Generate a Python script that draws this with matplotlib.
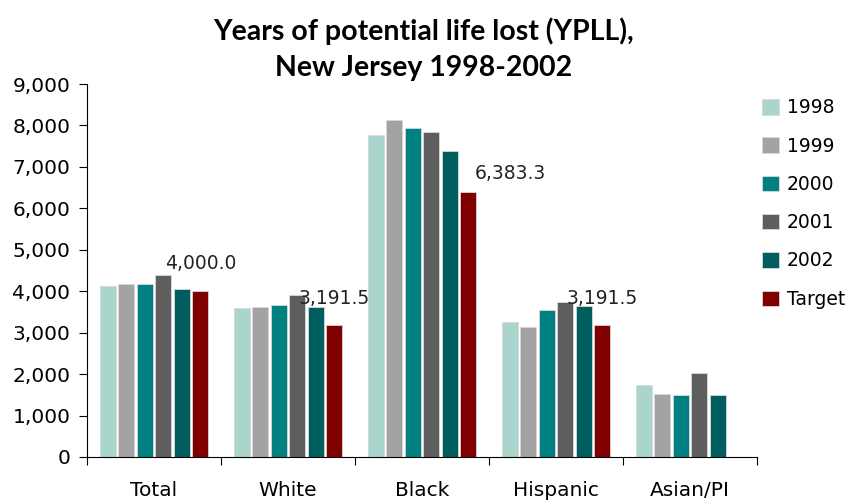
import numpy as np
import matplotlib
matplotlib.use('Agg')
import matplotlib.pyplot as plt
from matplotlib.patches import Patch

# 데이터
categories = ['Total', 'White', 'Black', 'Hispanic', 'Asian/PI']
series_names = ['1998', '1999', '2000', '2001', '2002', 'Target']
y1998 = [4125, 3595, 7770, 3265, 1735]
y1999 = [4175, 3620, 8130, 3135, 1520]
y2000 = [4175, 3670, 7940, 3545, 1495]
y2001 = [4385, 3910, 7840, 3730, 2035]
y2002 = [4055, 3620, 7385, 3650, 1490]
target = [4000.0, 3191.5, 6383.3, 3191.5, np.nan]
target_labels = ['4,000.0', '3,191.5', '6,383.3', '3,191.5', None]

colors = ['#a9d5cc', '#a3a3a3', '#008080', '#5e5e5e', '#005e5e', '#800000']

plt.rcParams['font.family'] = ['DejaVu Sans']

fig = plt.figure(figsize=(8.53, 5.04), dpi=100)
ax = fig.add_axes([0.102, 0.0933, 0.7855, 0.74])

all_series = [y1998, y1999, y2000, y2001, y2002, target]
x = np.arange(len(categories))
n = len(all_series)
slot = 0.83 / n
bw = slot * 0.86
for i, (vals, c) in enumerate(zip(all_series, colors)):
    offs = (i - (n - 1) / 2) * slot
    ax.bar(x + offs, vals, width=bw, color=c, edgecolor='#d8d8d8', linewidth=0.6)

# 목표값 레이블
label_shift = [(0, 28), (0, 26), (42, 19), (0, 26), (0, 0)]
tx = x + (n - 1 - (n - 1) / 2) * slot
for i, lab in enumerate(target_labels):
    if lab is None:
        continue
    ax.annotate(lab, (tx[i], target[i]), xytext=label_shift[i],
                textcoords='offset pixels', ha='center', va='center',
                fontsize=13.5, color='#222222')

ax.set_xlim(-0.5, len(categories) - 0.5)
ax.set_ylim(0, 9000)
ax.set_yticks(np.arange(0, 9001, 1000))
ax.set_yticklabels([f'{v:,}' for v in range(0, 9001, 1000)], fontsize=14.5)
ax.set_xticks(np.arange(-0.5, len(categories), 1.0))
ax.set_xticklabels([])
ax.set_xticks(x, minor=True)
ax.set_xticklabels(categories, minor=True, fontsize=14.5)
ax.tick_params(axis='x', which='minor', length=0, pad=17)
ax.tick_params(axis='x', which='major', length=6, direction='out')
ax.tick_params(axis='y', length=6, direction='out', pad=6)
for s in ['top', 'right']:
    ax.spines[s].set_visible(False)

fig.text(0.497, 0.902, 'Years of potential life lost (YPLL),\nNew Jersey 1998-2002',
         ha='center', va='center', fontsize=20.5, fontweight='bold',
         linespacing=1.45, family='Lato')

handles = [Patch(facecolor=c, edgecolor='#d8d8d8', linewidth=0.6) for c in colors]
fig.legend(handles, series_names, loc='upper left', bbox_to_anchor=(0.885, 0.820),
           frameon=False, fontsize=13.5, handlelength=0.9, handleheight=0.9,
           handletextpad=0.4, labelspacing=1.03, borderaxespad=0)

fig.savefig('out.png', dpi=100)
